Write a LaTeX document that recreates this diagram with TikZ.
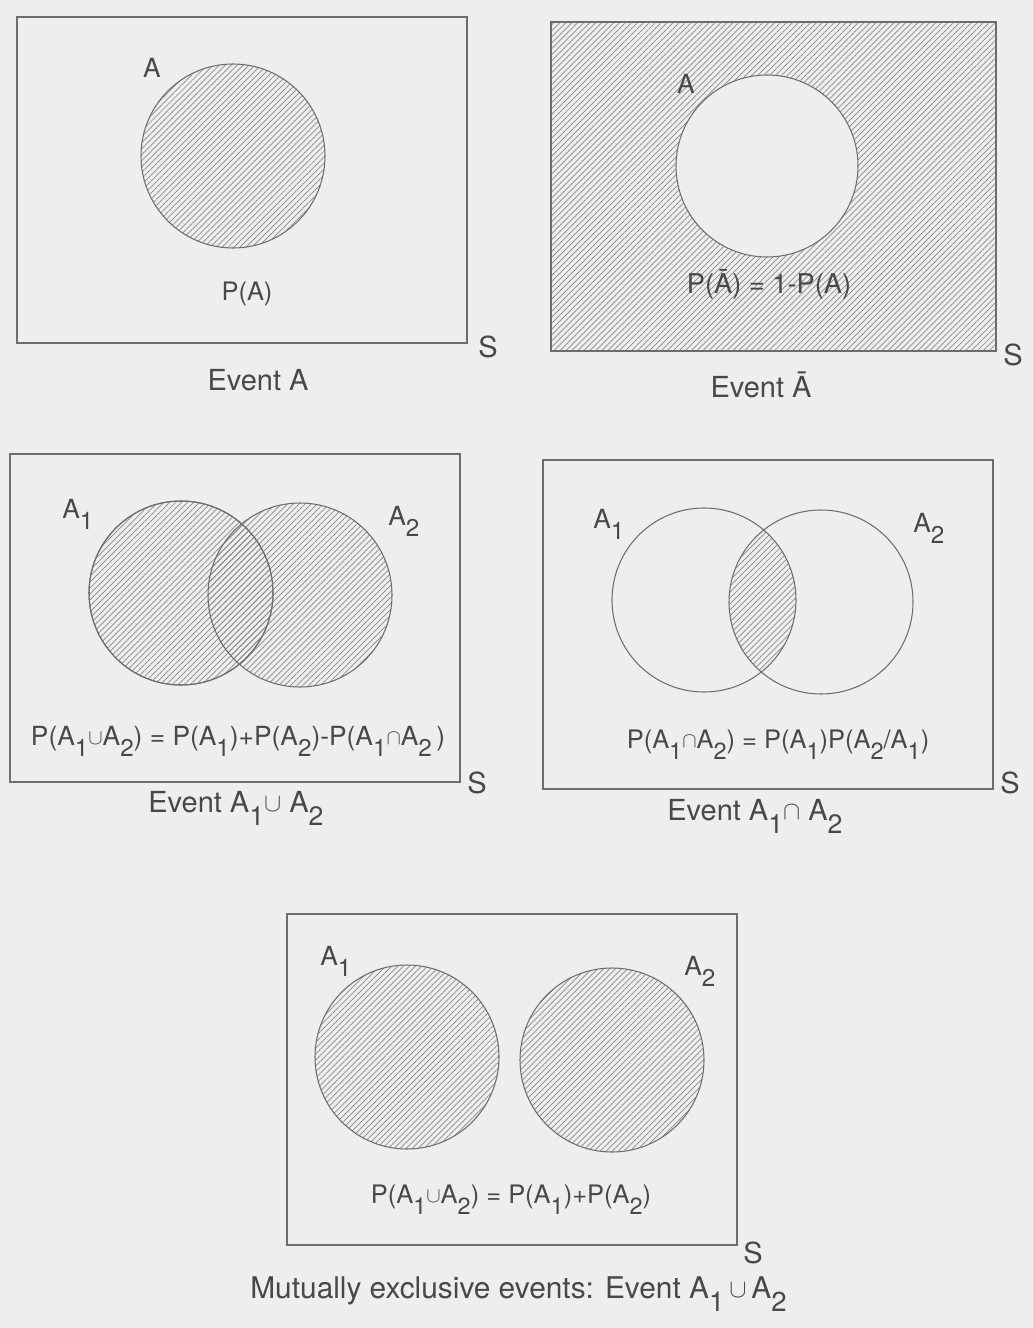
\documentclass[tikz,border=0pt]{standalone}
\usepackage{fontspec}
\setmainfont{TeX Gyre Heros}
\usetikzlibrary{patterns.meta}

\definecolor{paper}{RGB}{238,238,236}
\definecolor{ink}{RGB}{72,72,72}

% subscript and set symbols as printed
\newcommand{\sub}[1]{\raisebox{-0.45em}{\scalebox{0.92}{#1}}}
\newcommand{\un}{\raisebox{0.05ex}{\scalebox{0.85}{$\cup$}}}
\newcommand{\is}{\raisebox{0.05ex}{\scalebox{0.85}{$\cap$}}}

\tikzset{
  hatch/.style={pattern={Lines[angle=45, distance=2.4pt, line width=0.4pt]}, pattern color=ink!65},
  outline/.style={draw=ink!80, line width=0.6pt},
  setlbl/.style={text=ink, font=\fontsize{15}{18}\selectfont, inner sep=0pt},
  prob/.style={text=ink, font=\fontsize{14.5}{17}\selectfont, inner sep=0pt, anchor=base},
  caption/.style={text=ink, font=\fontsize{16.5}{20}\selectfont, inner sep=0pt},
}

\begin{document}
\begin{tikzpicture}[x=0.02cm, y=-0.02cm]

% Page
\fill[paper] (0,0) rectangle (1033,1328);
\useasboundingbox (0,0) rectangle (1033,1328);

% Event A
\draw[outline] (17,17) rectangle (467,343);
\filldraw[outline, hatch] (233,156) circle (92);
\node[setlbl, anchor=base] (a1lbl) at (152,78) {A};
\node[prob] (pa) at (247,300) {P(A)};
\node[caption, anchor=base] (s1) at (488,357) {S};
\node[caption, anchor=base] (ev1) at (258,390) {Event A};

% Event A-bar
\fill[hatch] (551,22) rectangle (996,351);
\draw[outline] (551,22) rectangle (996,351);
\filldraw[outline, fill=paper] (767,166) circle (91);
\node[setlbl, anchor=base] (a2lbl) at (686,93) {A};
\node[prob, font=\fontsize{15.5}{18}\selectfont] (pabar) at (769,293) {P(Ā) = 1-P(A)};
\node[caption, anchor=base] (s2) at (1013,365) {S};
\node[caption, anchor=base] (ev2) at (761,397) {Event Ā};

% Union
\draw[outline] (10,454) rectangle (460,782);
\filldraw[outline, hatch] (181,593) circle (92);
\filldraw[outline, hatch] (300,595) circle (92);
\draw[outline] (181,593) circle (92);
\node[setlbl, anchor=base west] (u1) at (62,518) {A\sub{1}};
\node[setlbl, anchor=base west] (u2) at (388,525) {A\sub{2}};
\node[prob, font=\fontsize{15}{18}\selectfont] (pu) at (238,745) {P(A\sub{1}\un A\sub{2}) = P(A\sub{1})+P(A\sub{2})-P(A\sub{1}\is A\sub{2}\,)};
\node[caption, anchor=base] (s3) at (477,793) {S};
\node[caption, anchor=base west] (ev3) at (148,812) {Event A\sub{1}\un\ A\sub{2}};

% Intersection
\draw[outline] (543,460) rectangle (993,789);
\begin{scope}
  \clip (704,600) circle (92);
  \fill[hatch] (821,602) circle (92);
\end{scope}
\draw[outline] (704,600) circle (92);
\draw[outline] (821,602) circle (92);
\node[setlbl, anchor=base west] (i1) at (593,528) {A\sub{1}};
\node[setlbl, anchor=base west] (i2) at (913,532) {A\sub{2}};
\node[prob] (pi) at (778,748) {P(A\sub{1}\is A\sub{2}) = P(A\sub{1})P(A\sub{2}/A\sub{1})};
\node[caption, anchor=base] (s4) at (1010,793) {S};
\node[caption, anchor=base west] (ev4) at (667,820) {Event A\sub{1}\is\ A\sub{2}};

% Mutually exclusive
\draw[outline] (287,914) rectangle (737,1245);
\filldraw[outline, hatch] (407,1057) circle (92);
\filldraw[outline, hatch] (612,1060) circle (92);
\node[setlbl, anchor=base west] (m1) at (320,965) {A\sub{1}};
\node[setlbl, anchor=base west] (m2) at (684,975) {A\sub{2}};
\node[prob] (pm) at (511,1203) {P(A\sub{1}\un A\sub{2}) = P(A\sub{1})+P(A\sub{2})};
\node[caption, anchor=base] (s5) at (753,1263) {S};
\node[caption, anchor=base west, font=\fontsize{17}{20}\selectfont] (ev5) at (250,1298) {Mutually exclusive events: Event A\sub{1}\,\un\,A\sub{2}};

\end{tikzpicture}
\end{document}
